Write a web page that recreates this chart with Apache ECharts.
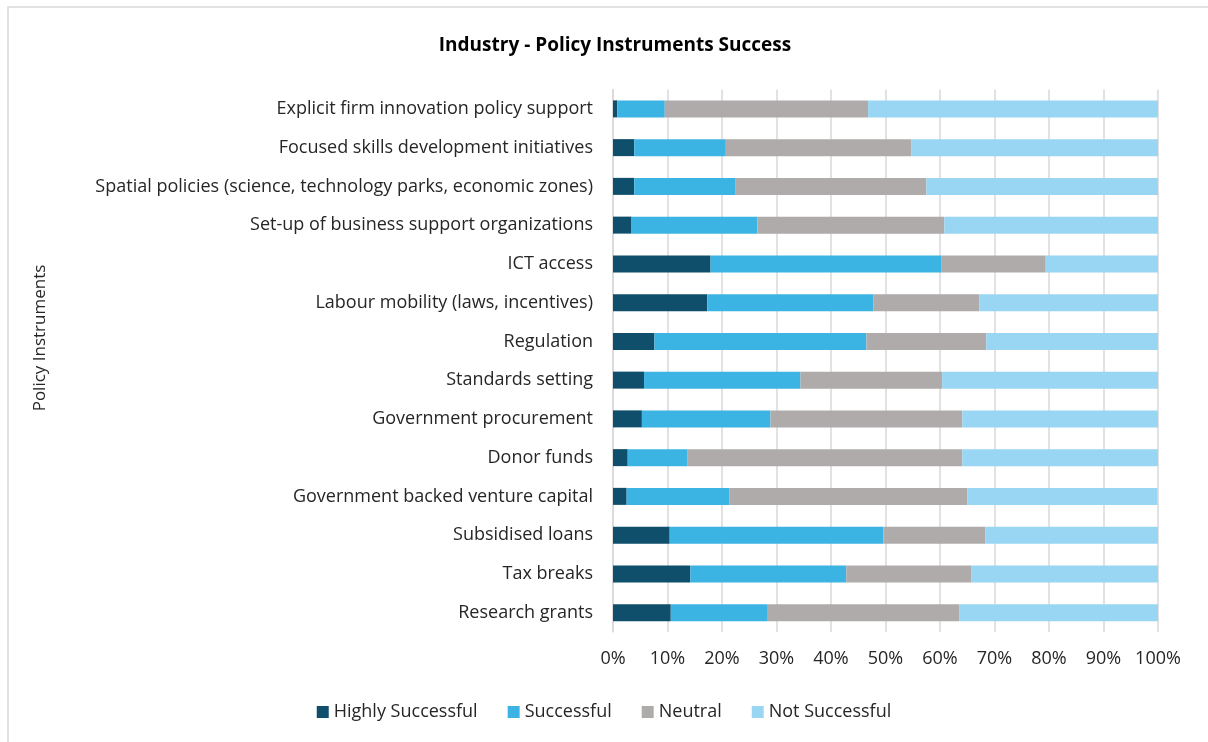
<!DOCTYPE html>
<html>
<head>
<meta charset="utf-8">
<script src="https://cdn.jsdelivr.net/npm/echarts@6/dist/echarts.min.js"></script>
<style>
  html, body { margin: 0; padding: 0; background: #fff; }
  #main { width: 1208px; height: 742px; }
</style>
</head>
<body>
<div id="main"></div>
<script>
// categories, top to bottom
var instruments = [
  "Explicit firm innovation policy support",
  "Focused skills development initiatives",
  "Spatial policies (science, technology parks, economic zones)",
  "Set-up of business support organizations",
  "ICT access",
  "Labour mobility (laws, incentives)",
  "Regulation",
  "Standards setting",
  "Government procurement",
  "Donor funds",
  "Government backed venture capital",
  "Subsidised loans",
  "Tax breaks",
  "Research grants"
];

// shares in percent
var highlySuccessful = [0.8, 3.9, 3.9, 3.4, 17.9, 17.3, 7.6, 5.7, 5.3, 2.7, 2.5, 10.4, 14.2, 10.6];
var successful = [8.7, 16.8, 18.5, 23.1, 42.3, 30.5, 38.9, 28.7, 23.6, 11.0, 18.9, 39.2, 28.6, 17.8];
var neutral = [37.3, 34.0, 35.1, 34.3, 19.2, 19.4, 22.0, 26.0, 35.2, 50.4, 43.6, 18.7, 22.9, 35.1];
var notSuccessful = [53.2, 45.3, 42.5, 39.2, 20.6, 32.8, 31.5, 39.6, 35.9, 35.9, 34.9, 31.7, 34.3, 36.5];

var seriesNames = ["Highly Successful", "Successful", "Neutral", "Not Successful"];
var seriesColors = ["#0F4F6B", "#3BB4E4", "#AFABAB", "#98D6F3"];
var seriesData = [highlySuccessful, successful, neutral, notSuccessful];

var FONT = "Open Sans";
var TEXT = "#262626";

var myChart = echarts.init(document.getElementById("main"));

myChart.setOption({
  animation: false,
  textStyle: { fontFamily: FONT },
  title: {
    text: "Industry - Policy Instruments Success",
    left: 610,
    top: 31,
    textAlign: "center",
    textStyle: { fontFamily: FONT, fontSize: 19, fontWeight: "bold", color: "#000" }
  },
  legend: {
    bottom: 16,
    left: "center",
    itemWidth: 12,
    itemHeight: 12,
    itemGap: 30,
    icon: "rect",
    textStyle: { fontFamily: FONT, fontSize: 18, color: TEXT },
    data: seriesNames
  },
  grid: {
    left: 613,
    right: 50,
    top: 89.5,
    bottom: 110,
    containLabel: false
  },
  xAxis: {
    type: "value",
    min: 0,
    max: 100,
    interval: 10,
    axisLabel: {
      formatter: "{value}%",
      fontFamily: FONT,
      fontSize: 18,
      color: TEXT,
      margin: 18
    },
    axisLine: { show: false },
    axisTick: { show: false },
    splitLine: { show: true, lineStyle: { color: "#D9D9D9", width: 1.5 } }
  },
  yAxis: {
    type: "category",
    inverse: true,
    data: instruments,
    axisLabel: {
      fontFamily: FONT,
      fontSize: 18,
      color: TEXT,
      margin: 20
    },
    axisLine: { show: true, lineStyle: { color: "#D9D9D9", width: 1.5 } },
    axisTick: { show: false }
  },
  series: seriesNames.map(function (name, i) {
    return {
      name: name,
      type: "bar",
      stack: "total",
      barWidth: 17,
      itemStyle: { color: seriesColors[i] },
      data: seriesData[i]
    };
  }),
  graphic: [
    {
      type: "rect",
      shape: { x: 8, y: 7, width: 1220, height: 760 },
      style: { fill: "none", stroke: "#D9D9D9", lineWidth: 1.5 },
      silent: true
    },
    {
      type: "text",
      x: 40,
      y: 338,
      rotation: Math.PI / 2,
      style: {
        text: "Policy Instruments",
        fontFamily: FONT,
        fontSize: 17,
        fill: TEXT,
        align: "center",
        verticalAlign: "middle"
      }
    }
  ]
});
</script>
</body>
</html>
